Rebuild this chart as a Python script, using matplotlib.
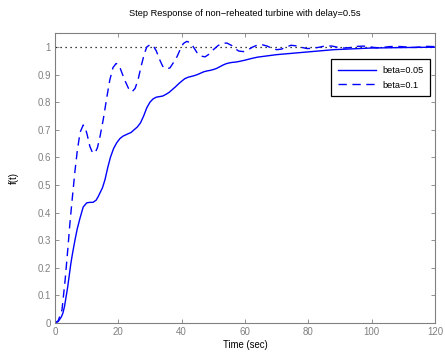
import numpy as np
import matplotlib
matplotlib.use('Agg')
import matplotlib.pyplot as plt

# step response samples, beta = 0.05
t1 = [0, 1, 2, 2.5, 3, 4, 5, 5.5, 6.3, 7, 7.9, 8.9, 10, 11, 12, 13, 13.6, 15, 15.8,
      16.7, 17.5, 18.5, 19.5, 20.5, 21.5, 23, 24, 25, 26, 27, 28, 29, 30, 31,
      32, 33, 34, 35, 36, 37, 38, 39, 40, 41, 42, 43, 44, 45, 46, 47, 48, 49, 50, 51,
      52, 53, 54, 55, 56, 57, 58, 60, 62, 64, 66, 68, 70, 72, 76, 80, 84, 88, 92, 96,
      100, 106, 112, 120]
y1 = [0, 0.005, 0.022, 0.036, 0.06, 0.13, 0.215, 0.25, 0.3, 0.34, 0.38, 0.42, 0.435,
      0.437, 0.437, 0.445, 0.457, 0.49, 0.52, 0.565, 0.6, 0.632, 0.653,
      0.668, 0.677, 0.685, 0.69, 0.70, 0.71, 0.725, 0.75, 0.78, 0.80, 0.812, 0.818,
      0.82, 0.822, 0.828, 0.835, 0.845, 0.855, 0.866, 0.876, 0.885, 0.89, 0.893,
      0.896, 0.9, 0.905, 0.91, 0.913, 0.915, 0.918, 0.922, 0.928, 0.934, 0.939,
      0.942, 0.944, 0.945, 0.947, 0.952, 0.958, 0.963, 0.966, 0.969, 0.972, 0.974,
      0.978, 0.982, 0.986, 0.99, 0.992, 0.994, 0.996, 0.997, 0.998, 0.999]

# step response samples, beta = 0.1
t2 = [0, 1, 2.2, 3.2, 4.1, 4.7, 5.4, 6.3, 7, 7.9, 8.9, 9.5, 10.2, 11, 11.8,
      12.6, 13.4, 14.2, 15.2, 16.4, 17.3, 18.3, 19.3, 20.2, 21, 22, 23.2, 24.3, 25.3,
      26.2, 27.2, 28.2, 29, 30, 31, 32, 33, 34, 35.2, 36.3, 37.5, 38.5, 39.5, 40.5,
      41.6, 42.8, 43.8, 44.8, 46, 47.4, 48.8, 50, 51.5, 53, 54.3, 55.8, 57, 58, 59.5,
      61, 62.5, 64, 65.4, 67, 68.5, 70, 71.5, 73, 74.5, 76, 78, 79.6, 81.5, 83.5,
      85.5, 87.5, 89.5, 91.5, 93.5, 95.5, 97.5, 99.5, 101.5, 103.5, 105.5, 107.5,
      109.5, 111.5, 113.5, 115.5, 117.5, 120]
y2 = [0, 0.008, 0.047, 0.156, 0.275, 0.36, 0.445, 0.55, 0.62, 0.69, 0.717,
      0.71, 0.68, 0.64, 0.618, 0.615, 0.635, 0.675, 0.735, 0.82, 0.88, 0.925, 0.94,
      0.935, 0.91, 0.88, 0.85, 0.837, 0.85, 0.88, 0.93, 0.975, 1.0, 1.008, 1.005,
      0.985, 0.955, 0.93, 0.92, 0.924, 0.945, 0.964, 0.99, 1.012, 1.02, 1.015, 0.998,
      0.98, 0.967, 0.964, 0.975, 0.99, 1.005, 1.013, 1.014, 1.005, 0.993, 0.985,
      0.983, 0.99, 1.0, 1.007, 1.008, 1.003, 0.995, 0.99, 0.992, 0.999, 1.006, 1.004,
      0.998, 0.994, 0.995, 0.999, 1.004, 1.003, 0.998, 0.996, 0.998, 1.002, 1.003,
      1.0, 0.997, 0.998, 1.001, 1.002, 1.001, 0.999, 0.998, 1.0, 1.002, 1.001]

plt.rcParams['font.family'] = ['Liberation Sans', 'DejaVu Sans']
gray = '#808080'

fig = plt.figure(figsize=(4.45, 3.56), dpi=100)
ax = fig.add_axes([0.1236, 0.0927, 0.854, 0.8143])

ax.plot([0, 120], [1, 1], color='k', linestyle=(0, (1, 3)), linewidth=0.9)
ax.plot(t1, y1, color='#0000ff', linewidth=1.0, label='beta=0.05')
ax.plot(t2, y2, color='#0000ff', linewidth=1.0, linestyle=(0, (6, 4)), label='beta=0.1')

ax.set_xlim(0, 120)
ax.set_ylim(0, 1.05)
ax.set_xticks(np.arange(0, 121, 20))
ax.set_yticks(np.arange(0, 1.01, 0.1))
ax.set_yticklabels(['0', '0.1', '0.2', '0.3', '0.4', '0.5', '0.6', '0.7', '0.8', '0.9', '1'])
ax.tick_params(direction='in', top=True, right=True, length=3, width=0.6,
               color=gray, labelcolor=gray, labelsize=7, pad=3)
for s in ax.spines.values():
    s.set_color(gray)
    s.set_linewidth(0.8)

ax.set_xlabel('Time (sec)', fontsize=6.9, labelpad=2)
ax.set_ylabel('f(t)', fontsize=6.9, labelpad=13)
ax.set_title('Step Response of non\u2212reheated turbine with delay=0.5s', fontsize=6.7, pad=12)

leg = ax.legend(loc='upper right', bbox_to_anchor=(0.987, 0.91), borderaxespad=0,
                fontsize=6.6, fancybox=False, framealpha=1, edgecolor='k',
                handlelength=4.2, borderpad=0.75, labelspacing=0.6, handletextpad=0.6)
leg.get_frame().set_linewidth(0.9)

fig.savefig('out.png', dpi=100)
